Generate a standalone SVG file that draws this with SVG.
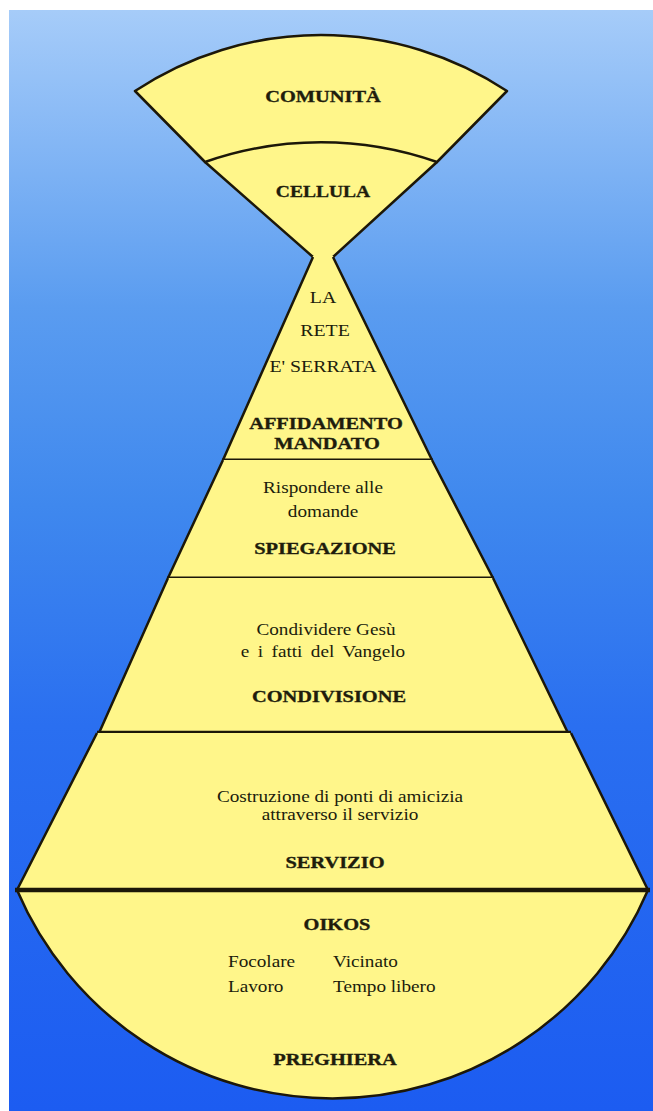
<svg xmlns="http://www.w3.org/2000/svg" width="653" height="1111" viewBox="0 0 653 1111">
<defs>
<linearGradient id="sky" x1="0" y1="0" x2="0" y2="1">
<stop offset="0" stop-color="#a6ccf9"/>
<stop offset="0.27" stop-color="#5a9cf0"/>
<stop offset="0.45" stop-color="#3f88ee"/>
<stop offset="0.65" stop-color="#2a6ff0"/>
<stop offset="1" stop-color="#1c5cf1"/>
</linearGradient>
</defs>
<style>
.fill{fill:#fff68a;stroke:none}
.edge{fill:none;stroke:#1c1708;stroke-width:2.5;stroke-linejoin:round}
.div{fill:none;stroke:#1c1708;stroke-width:3}
.div2{fill:none;stroke:#1c1708;stroke-width:4.5}
text{font-family:"Liberation Serif","Times New Roman",serif;fill:#201c0c;text-anchor:middle}
.b{font-weight:bold;font-size:17px;stroke:#201c0c;stroke-width:0.35}
.r{font-size:16px}
.s{text-anchor:start}
</style>
<rect x="0" y="0" width="653" height="1111" fill="#ffffff"/>
<rect x="9" y="10" width="644" height="1101" fill="url(#sky)"/>

<g id="cellula">
<path class="fill" d="M205,162 A350,350 0 0,1 437,162 L333,258 L313,258 Z"/>
<path class="edge" d="M205,162 L313,257 M437,162 L333,257"/>
<text class="b" transform="translate(323 197) scale(1.15 1)">CELLULA</text>
</g>

<g id="comunita">
<path class="fill" d="M135,91 A337,337 0 0,1 507,91 L437,162 A350,350 0 0,0 205,162 Z"/>
<path class="edge" d="M135,91 A337,337 0 0,1 507,91 L437,162 A350,350 0 0,0 205,162 Z"/>
<text class="b" transform="translate(323 102) scale(1.2 1)">COMUNITÀ</text>
</g>

<g id="affidamento">
<path class="fill" d="M313,256 L333,256 L432,460 L223,460 Z"/>
<path class="edge" d="M313,257 L223,460 M333,257 L432,460"/>
<line class="div" x1="222" y1="460" x2="433" y2="460"/>
<text class="r" style="font-size:16.5px" transform="translate(323 303) scale(1.2 1)">LA</text>
<text class="r" style="font-size:16.5px" transform="translate(325 336) scale(1.2 1)">RETE</text>
<text class="r" style="font-size:16.5px" transform="translate(323 372) scale(1.2 1)">E' SERRATA</text>
<text class="b" transform="translate(326 429) scale(1.2 1)">AFFIDAMENTO</text>
<text class="b" transform="translate(327 449) scale(1.2 1)">MANDATO</text>
</g>

<g id="spiegazione">
<path class="fill" d="M223,460 L432,460 L493,578 L168,578 Z"/>
<path class="edge" d="M223,460 L168,578 M432,460 L493,578"/>
<line class="div" x1="167" y1="578" x2="494" y2="578"/>
<text class="r" transform="translate(323 493) scale(1.2 1)">Rispondere alle</text>
<text class="r" transform="translate(323 517) scale(1.2 1)">domande</text>
<text class="b" transform="translate(325 554) scale(1.2 1)">SPIEGAZIONE</text>
</g>

<g id="condivisione">
<path class="fill" d="M168,578 L493,578 L568,733 L99,733 Z"/>
<path class="edge" d="M168,578 L99,733 M493,578 L568,733"/>
<line class="div2" x1="97" y1="733" x2="571" y2="733"/>
<text class="r" transform="translate(326 635) scale(1.2 1)">Condividere Gesù</text>
<text class="r" style="word-spacing:3px" transform="translate(323 657) scale(1.2 1)">e i fatti del Vangelo</text>
<text class="b" transform="translate(329 702) scale(1.2 1)">CONDIVISIONE</text>
</g>

<g id="servizio">
<path class="fill" d="M97,733 L571,733 L648,890 L17,890 Z"/>
<path class="edge" d="M97,733 L17,890 M571,733 L648,890"/>
<text class="r" transform="translate(340 802) scale(1.2 1)">Costruzione di ponti di amicizia</text>
<text class="r" transform="translate(340 820) scale(1.2 1)">attraverso il servizio</text>
<text class="b" transform="translate(335 868) scale(1.2 1)">SERVIZIO</text>
</g>

<g id="oikos">
<path class="fill" d="M17,890 A343,343 0 0,0 648,890 Z"/>
<path class="edge" d="M17,890 A343,343 0 0,0 648,890"/>
<line class="div2" x1="15" y1="890" x2="650" y2="890"/>
<text class="b" transform="translate(337 930) scale(1.2 1)">OIKOS</text>
<text class="r s" transform="translate(228 967) scale(1.2 1)">Focolare</text>
<text class="r s" transform="translate(333 967) scale(1.2 1)">Vicinato</text>
<text class="r s" transform="translate(228 992) scale(1.2 1)">Lavoro</text>
<text class="r s" transform="translate(333 992) scale(1.2 1)">Tempo libero</text>
<text class="b" transform="translate(335 1065) scale(1.2 1)">PREGHIERA</text>
</g>
</svg>
